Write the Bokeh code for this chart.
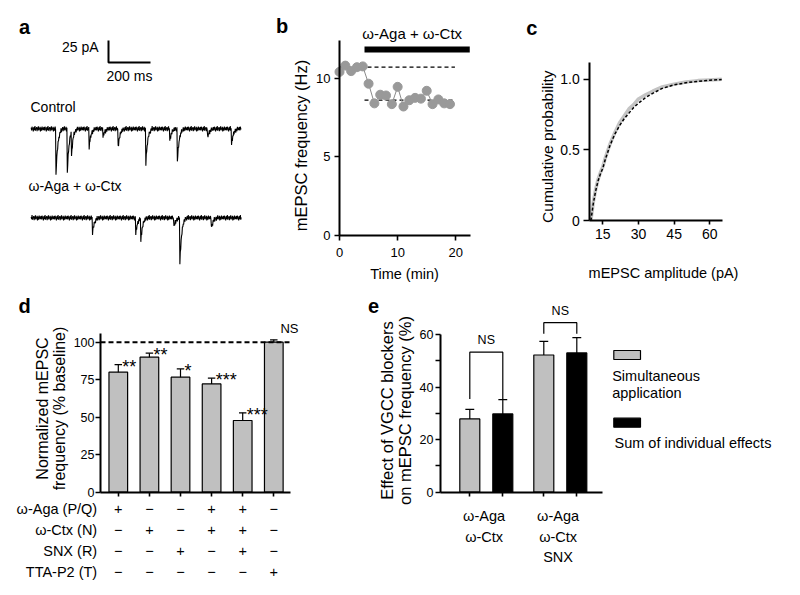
import numpy as np
from bokeh.plotting import figure
from bokeh.layouts import column, row
from bokeh.models import Range1d, FixedTicker
from bokeh.embed import file_html
from bokeh.resources import INLINE

FONT = "Liberation Sans"

# ---------------- data ----------------
# panel a: example traces (events)
trace_duration_ms = 1000
control_event_ms = [116, 170, 190, 274, 340, 412, 544, 658, 694, 838, 952]
control_event_pA = [53, 50, 26, 21, 9, 21, 40, 13, 38, 10, 18]
drug_event_ms = [290, 496, 520, 678, 706, 856]
drug_event_pA = [18, 18, 26, 11, 52, 12]
epsc_kernel_ms = [0, 2, 4, 7, 11, 16, 23, 32]
epsc_kernel_rel = [0, 1.0, 0.78, 0.55, 0.35, 0.18, 0.07, 0]
noise_pA = [1.3, -1.9, 2.4, -0.6, 0.3, -2.9, 1.8, 1.0, -1.4, 3.0, -2.2, 0.5, -0.3, 1.9, -2.6,
            1.4, -1.1, 2.7, -1.8, 0.6, -0.5, 2.2, -3.0, 1.1, 0.2, -2.1, 2.6, -1.0, 0.8, -1.6, 2.1]
scale_bar_pA = 25
scale_bar_ms = 200
trace_names = ["Control", "ω-Aga + ω-Ctx"]

# panel b: time course
time_min = list(range(20))
freq_hz = [10.4, 10.8, 10.45, 10.7, 10.75, 9.65, 8.4, 8.95, 8.9, 8.35,
           9.45, 8.2, 8.6, 8.75, 8.7, 9.2, 8.35, 8.65, 8.4, 8.35]
baseline_hz = 10.7
drug_hz = 8.6
drug_start_min = 4.3
drug_end_min = 22.4
drug_name = "ω-Aga  + ω-Ctx"

# panel c: cumulative amplitude distributions
amp_pA = [10, 11, 12, 13, 14, 15, 16, 17, 18, 20, 22, 24, 26, 28, 30, 33, 36, 40, 45, 50, 55, 60, 65]
cdf_control = [0, 0.13, 0.22, 0.29, 0.34, 0.38, 0.44, 0.49, 0.54, 0.62, 0.69, 0.74, 0.79, 0.82,
               0.86, 0.89, 0.915, 0.945, 0.965, 0.98, 0.99, 0.995, 1.0]
cdf_drug = [0, 0.12, 0.21, 0.28, 0.33, 0.37, 0.43, 0.48, 0.53, 0.61, 0.67, 0.72, 0.76, 0.80,
            0.83, 0.87, 0.90, 0.935, 0.96, 0.975, 0.985, 0.993, 0.998]

# panel d: normalized frequency
d_values = [80, 90, 76.7, 72.2, 47.8, 100]
d_errors = [5.0, 2.7, 5.5, 3.8, 5.1, 1.6]
d_sig = ["**", "**", "*", "***", "***", "NS"]
d_reference = 100
d_rows = ["ω-Aga (P/Q)", "ω-Ctx (N)", "SNX (R)", "TTA-P2 (T)"]
d_table = [
    ["+", "−", "−", "+", "+", "−"],
    ["−", "+", "−", "+", "+", "−"],
    ["−", "−", "+", "−", "+", "−"],
    ["−", "−", "−", "−", "−", "+"],
]

# panel e: simultaneous vs sum
e_groups = [["ω-Aga", "ω-Ctx"], ["ω-Aga", "ω-Ctx", "SNX"]]
e_simult = [27.9, 52.2]
e_simult_err = [3.6, 5.2]
e_sum = [29.8, 53.0]
e_sum_err = [5.4, 5.8]
e_bracket_top = [53.3, 64.5]
e_bracket_foot = [35.5, 60.3]
e_legend = ["Simultaneous\napplication", "Sum of individual effects"]

GRAY = "#c0c0c0"


def panel(X0, Y0, W, H, px0, xv0, sx, py0, yv0, sy, axes=True):
    xs = xv0 - (px0 - X0) / sx
    ye = yv0 + (py0 - Y0) / sy
    kw = dict(width=W, height=H, output_backend="svg", toolbar_location=None,
              x_range=Range1d(xs, xs + W / sx), y_range=Range1d(ye - H / sy, ye),
              min_border=0)
    if not axes:
        kw.update(x_axis_location=None, y_axis_location=None)
    p = figure(**kw)
    p.grid.visible = False
    p.outline_line_color = None
    p.background_fill_color = "white"
    p.border_fill_color = "white"
    if axes:
        for ax in p.axis:
            ax.axis_line_width = 2
            ax.major_tick_line_width = 1.6
            ax.major_tick_in = 0
            ax.major_tick_out = 5
            ax.minor_tick_line_color = None
            ax.major_label_text_font = FONT
            ax.major_label_text_color = "black"
    X = lambda px: xv0 + (px - px0) / sx
    Y = lambda py: yv0 + (py0 - py) / sy
    return p, X, Y


def txt(p, x, y, text, size, align="center", baseline="middle", bold=False, angle=0.0):
    p.text([x], [y], text=[text], text_font={"value": FONT}, text_font_size=f"{size}px",
           text_align=align, text_baseline=baseline, text_color="black",
           text_font_style="bold" if bold else "normal", angle=angle)


VERT = np.pi / 2

# ---------------- panel a ----------------
fa, Xa, Ya = panel(0, 0, 270, 288, 30.7, 0, 42.0 / scale_bar_ms, 128.3, 0, 22.0 / scale_bar_pA, axes=False)
t = np.arange(0, trace_duration_ms + 1, 2.0)


def build_trace(ev_ms, ev_pA, phase):
    y = np.array([noise_pA[(i + phase) % len(noise_pA)] for i in range(len(t))])
    for m, a in zip(ev_ms, ev_pA):
        y = y - a * np.interp(t - m, epsc_kernel_ms, epsc_kernel_rel, left=0, right=0)
    return y


fa.line(t, build_trace(control_event_ms, control_event_pA, 0), color="black", line_width=1.1)
fa.line(t, build_trace(drug_event_ms, drug_event_pA, 7) + Ya(217.3), color="black", line_width=1.1)
sbx, sby = Xa(108), Ya(62)
fa.line([sbx, sbx, sbx + scale_bar_ms], [sby + scale_bar_pA, sby, sby], color="black", line_width=2)
txt(fa, Xa(98), Ya(46), f"{scale_bar_pA} pA", 14, align="right")
txt(fa, sbx + scale_bar_ms / 2, Ya(75), f"{scale_bar_ms} ms", 14)
txt(fa, Xa(30), Ya(106), trace_names[0], 14, align="left")
txt(fa, Xa(28), Ya(185), trace_names[1], 14, align="left")
txt(fa, Xa(24), Ya(26.7), "a", 20, bold=True)

# ---------------- panel b ----------------
fb, Xb, Yb = panel(270, 0, 215, 288, 339, 0, 5.815, 235, 0, 15.73)
fb.yaxis.fixed_location = 0
fb.xaxis.fixed_location = 0
fb.yaxis.bounds = (0, 12.4)
fb.xaxis.bounds = (0, 22.5)
fb.yaxis.ticker = FixedTicker(ticks=[0, 5, 10])
fb.xaxis.ticker = FixedTicker(ticks=[0, 10, 20])
fb.axis.major_label_text_font_size = "13px"
fb.yaxis.major_label_standoff = 4
fb.xaxis.major_label_standoff = 7
fb.line([0, 19.85], [baseline_hz, baseline_hz], color="black", line_width=1.3, line_dash="4 3")
fb.line([drug_start_min, 19.85], [drug_hz, drug_hz], color="black", line_width=1.3, line_dash="4 3")
fb.line(time_min, freq_hz, color="#8a8a8a", line_width=1)
fb.scatter(time_min, freq_hz, size=9, fill_color="#999999", line_color="#999999")
fb.line([drug_start_min, drug_end_min], [Yb(49), Yb(49)], color="black", line_width=6)
txt(fb, Xb(413.8), Yb(33.3), drug_name, 15)
txt(fb, Xb(300), Yb(145), "mEPSC frequency (Hz)", 16.5, angle=VERT)
txt(fb, Xb(404), Yb(273), "Time (min)", 14.5)
txt(fb, Xb(281.7), Yb(25), "b", 20, bold=True)

# ---------------- panel c ----------------
fc, Xc, Yc = panel(485, 0, 315, 288, 602.3, 15, 2.378, 220, 0, 141.3)
fc.yaxis.fixed_location = Xc(589.3)
fc.xaxis.fixed_location = 0
fc.yaxis.bounds = (0, 1.12)
fc.xaxis.bounds = (Xc(589.3), 65.2)
fc.yaxis.ticker = FixedTicker(ticks=[0, 0.5, 1.0])
fc.yaxis.major_label_overrides = {0: "0", 0.5: "0.5", 1: "1.0"}
fc.xaxis.ticker = FixedTicker(ticks=[15, 30, 45, 60])
fc.axis.major_label_text_font_size = "14px"
fc.yaxis.major_tick_out = 6
fc.xaxis.major_tick_out = 4
fc.yaxis.major_label_standoff = 4
fc.xaxis.major_label_standoff = 4
fc.line(amp_pA, cdf_control, color="#c4c4c4", line_width=3.5)
fc.line(amp_pA, cdf_drug, color="black", line_width=1.5, line_dash="3 2")
txt(fc, Xc(547), Yc(144), "Cumulative  probability", 15.5, angle=VERT)
txt(fc, Xc(663), Yc(272.7), "mEPSC amplitude (pA)", 14.5)
txt(fc, Xc(531.3), Yc(27.2), "c", 20, bold=True)

# ---------------- panel d ----------------
fd, Xd, Yd = panel(0, 288, 363, 307, 117.8, 1, 31.1, 491.7, 0, 1.5)
d_pos = [i + 1 for i in range(len(d_values))]
d_axis_x = Xd(100)
d_axis_end = Xd(290)
fd.yaxis.fixed_location = d_axis_x
fd.xaxis.fixed_location = 0
fd.yaxis.bounds = (0, 105.6)
fd.xaxis.bounds = (d_axis_x, d_axis_end)
fd.yaxis.ticker = FixedTicker(ticks=[0, 25, 50, 75, 100])
fd.xaxis.ticker = FixedTicker(ticks=d_pos)
fd.xaxis.major_label_text_color = None
fd.axis.major_label_text_font_size = "12.5px"
fd.yaxis.major_label_standoff = 1
fd.xaxis.major_tick_out = 4
fd.vbar(x=d_pos, top=d_values, width=0.6, bottom=0, fill_color=GRAY, line_color="black", line_width=1.2)
d_tops = [v + e for v, e in zip(d_values, d_errors)]
fd.segment(d_pos, d_values, d_pos, d_tops, color="black", line_width=1.2)
fd.segment([x - 0.12 for x in d_pos], d_tops, [x + 0.12 for x in d_pos], d_tops, color="black", line_width=1.2)
fd.line([d_axis_x, d_axis_end], [d_reference, d_reference], color="black", line_width=2, line_dash="5 3")
for x, top, s in zip(d_pos, d_tops, d_sig):
    if s == "NS":
        txt(fd, Xd(289), Yd(328.3), s, 13)
    else:
        txt(fd, x + 0.13, top - 1.5, s, 18, align="left", baseline="alphabetic")
row_py = [508.3, 529.3, 550, 571.7]
for name, py, signs in zip(d_rows, row_py, d_table):
    txt(fd, Xd(96.7), Yd(py), name, 14.5, align="right")
    for x, s in zip(d_pos, signs):
        txt(fd, x, Yd(py), s, 14.5)
txt(fd, Xd(41.7), Yd(408), "Normalized mEPSC", 16, angle=VERT)
txt(fd, Xd(58.8), Yd(408), "frequency (% baseline)", 16, angle=VERT)
txt(fd, Xd(24.2), Yd(305), "d", 20, bold=True)

# ---------------- panel e ----------------
fe, Xe, Ye = panel(363, 288, 437, 307, 485.8, 1, 74.0, 491.7, 0, 2.628)
e_pos = [i + 1 for i in range(len(e_groups))]
off = 16.5 / 74.0
bw = 20 / 74.0
e_axis_x = Xe(440)
fe.yaxis.fixed_location = e_axis_x
fe.xaxis.fixed_location = 0
fe.yaxis.bounds = (0, 60)
fe.xaxis.bounds = (e_axis_x, Xe(601.7))
fe.yaxis.ticker = FixedTicker(ticks=[0, 10, 20, 30, 40, 50, 60])
fe.yaxis.major_label_overrides = {10: "", 30: "", 50: ""}
xs_g = [x - off for x in e_pos]
xs_b = [x + off for x in e_pos]
fe.xaxis.ticker = FixedTicker(ticks=xs_g + xs_b)
fe.xaxis.major_label_text_color = None
fe.xaxis.major_tick_out = 4
fe.axis.major_label_text_font_size = "12.5px"
fe.yaxis.major_label_standoff = 2
fe.vbar(x=xs_g, top=e_simult, width=bw, bottom=0, fill_color=GRAY, line_color="black", line_width=1.2)
fe.vbar(x=xs_b, top=e_sum, width=bw, bottom=0, fill_color="black", line_color="black", line_width=1.2)
tg = [v + e for v, e in zip(e_simult, e_simult_err)]
tb = [v + e for v, e in zip(e_sum, e_sum_err)]
fe.segment(xs_g + xs_b, e_simult + e_sum, xs_g + xs_b, tg + tb, color="black", line_width=1.2)
fe.segment([x - 0.06 for x in xs_g + xs_b], tg + tb, [x + 0.06 for x in xs_g + xs_b], tg + tb,
           color="black", line_width=1.2)
for xg, xb, top, foot in zip(xs_g, xs_b, e_bracket_top, e_bracket_foot):
    fe.line([xg, xg, xb, xb], [foot, top, top, foot], color="black", line_width=1.2)
    txt(fe, (xg + xb) / 2, top + 4.5, "NS", 12.5)
cat_py = [515.7, 536.7, 556.7]
for x, names in zip(e_pos, e_groups):
    for py, nm in zip(cat_py, names):
        txt(fe, x - 0.03, Ye(py), nm, 14.5)
fe.quad(left=[Xe(613.3)], right=[Xe(640)], top=[Ye(350)], bottom=[Ye(359)],
        fill_color=GRAY, line_color="black", line_width=1.2)
fe.quad(left=[Xe(613.3)], right=[Xe(640)], top=[Ye(417.7)], bottom=[Ye(426.7)],
        fill_color="black", line_color="black", line_width=1.2)
leg1 = e_legend[0].split("\n")
txt(fe, Xe(611.7), Ye(375), leg1[0], 14.5, align="left")
txt(fe, Xe(611.7), Ye(392.7), leg1[1], 14.5, align="left")
txt(fe, Xe(614), Ye(442.7), e_legend[1], 14.5, align="left")
txt(fe, Xe(386.2), Ye(410), "Effect of VGCC blockers", 16.5, angle=VERT)
txt(fe, Xe(404), Ye(410), "on mEPSC frequency (%)", 16.5, angle=VERT)
txt(fe, Xe(373), Ye(305), "e", 20, bold=True)

layout = column(row(fa, fb, fc), row(fd, fe))
open("out.html", "w").write(file_html(layout, INLINE))
